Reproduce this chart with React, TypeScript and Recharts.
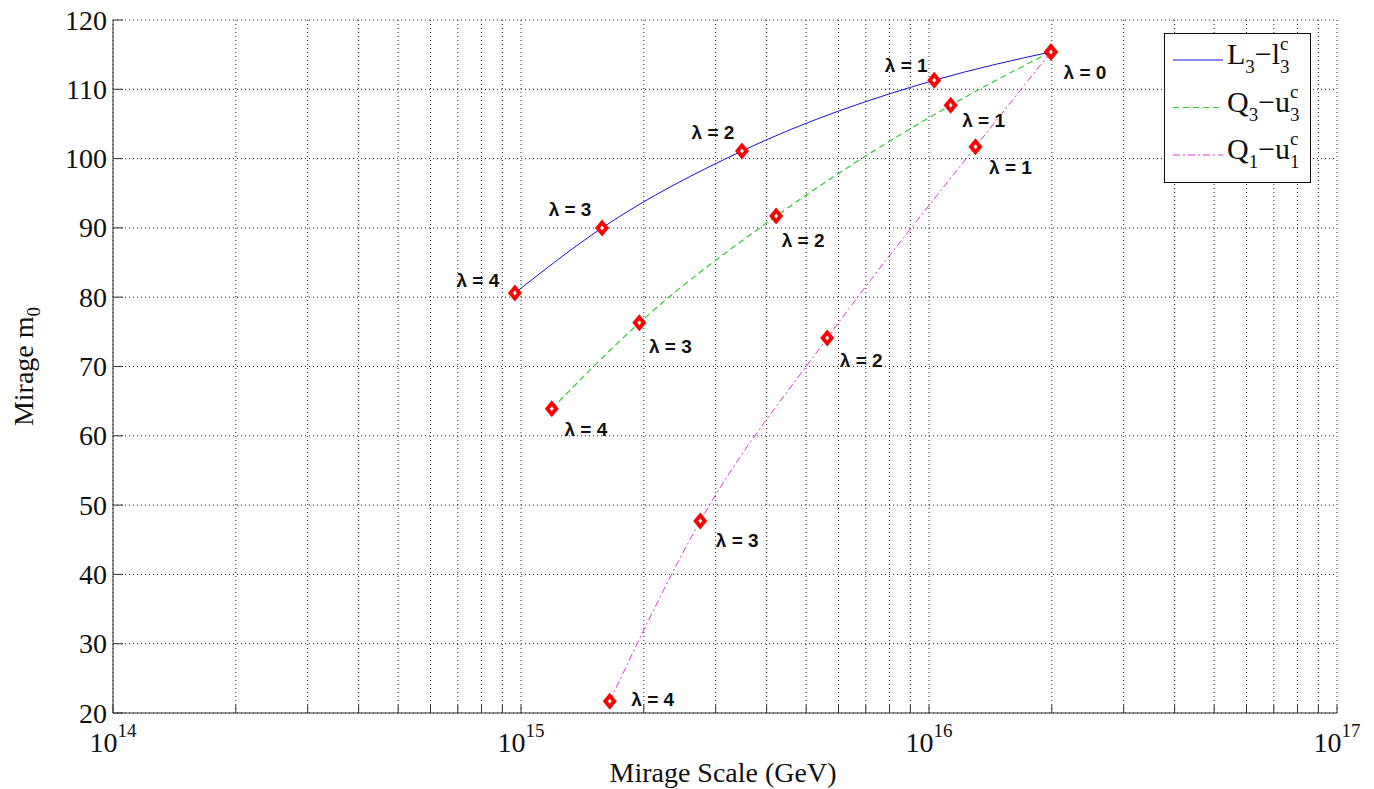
import React from "react";
import {
  LineChart,
  Line,
  XAxis,
  YAxis,
  CartesianGrid,
  Legend,
  LabelList,
} from "recharts";

const lambdaLabels = ["λ = 4", "λ = 3", "λ = 2", "λ = 1", "λ = 0"];

// L3 - l3^c
const lScale = [9.66e14, 1.58e15, 3.48e15, 1.03e16, 1.99e16];
const lM0 = [80.6, 90.0, 101.1, 111.3, 115.4];
// Q3 - u3^c
const q3Scale = [1.19e15, 1.95e15, 4.22e15, 1.13e16, 1.99e16];
const q3M0 = [63.9, 76.3, 91.7, 107.7, 115.4];
// Q1 - u1^c
const q1Scale = [1.65e15, 2.75e15, 5.63e15, 1.3e16, 1.99e16];
const q1M0 = [21.7, 47.7, 74.1, 101.7, 115.4];

const xTicks = [
  1e14, 2e14, 3e14, 4e14, 5e14, 6e14, 7e14, 8e14, 9e14,
  1e15, 2e15, 3e15, 4e15, 5e15, 6e15, 7e15, 8e15, 9e15,
  1e16, 2e16, 3e16, 4e16, 5e16, 6e16, 7e16, 8e16, 9e16,
  1e17,
];
const decadeLabels: Record<string, string> = {
  "100000000000000": "14",
  "1000000000000000": "15",
  "10000000000000000": "16",
  "100000000000000000": "17",
};
const yTicks = [20, 30, 40, 50, 60, 70, 80, 90, 100, 110, 120];

// label offsets from marker centre (layout only)
const lLabelOff = [[-37, -13], [-32, -18], [-29, -18], [-28, -15], [34, 21]];
const q3LabelOff = [[34, 21], [31, 24], [27, 24], [33, 15], null];
const q1LabelOff = [[43, -2], [37, 19], [34, 22], [35, 21], null];

const toRows = (xs: number[], ys: number[]) =>
  xs.map((x, i) => ({ x, y: ys[i], lbl: lambdaLabels[i] }));

const lRows = toRows(lScale, lM0);
const q3Rows = toRows(q3Scale, q3M0);
const q1Rows = toRows(q1Scale, q1M0);

const SERIF = "'Liberation Serif', 'Times New Roman', serif";
const SANS = "'Liberation Sans', Arial, sans-serif";
const FRAME = "#333";

const BLUE = "#1010e0";
const GREEN = "#2ccc2c";
const MAGENTA = "#dd33dd";

const Diamond = (props: any) => {
  const { cx, cy } = props;
  if (cx == null || cy == null) return null;
  return (
    <g>
      <path
        d={`M${cx},${cy - 8.5}L${cx + 7},${cy}L${cx},${cy + 8.5}L${cx - 7},${cy}Z`}
        fill="#f00"
      />
      <path
        d={`M${cx},${cy - 2.5}L${cx + 2},${cy}L${cx},${cy + 2.5}L${cx - 2},${cy}Z`}
        fill="#fff"
      />
    </g>
  );
};

const makeLabel = (offsets: (number[] | null)[]) => (props: any) => {
  const { x, y, value, index } = props;
  const off = offsets[index];
  if (!off) return null;
  return (
    <text
      x={x + off[0]}
      y={y + off[1]}
      textAnchor="middle"
      dominantBaseline="central"
      fontFamily={SANS}
      fontSize={19}
      fontWeight="bold"
      fill="#111"
    >
      {value}
    </text>
  );
};

const BottomTick = (props: any) => {
  const { x, y, payload } = props;
  const exp = decadeLabels[String(payload.value)];
  return (
    <g>
      <line x1={x} x2={x} y1={y} y2={y - 8} stroke={FRAME} />
      {exp && (
        <text x={x} y={y + 39} textAnchor="middle" fontFamily={SERIF} fontSize={28} fill="#111">
          10
          <tspan dy={-15} fontSize={19}>
            {exp}
          </tspan>
        </text>
      )}
    </g>
  );
};

const TopTick = (props: any) => {
  const { x, y } = props;
  return <line x1={x} x2={x} y1={y} y2={y + 8} stroke={FRAME} />;
};

const LeftTick = (props: any) => {
  const { x, y, payload } = props;
  return (
    <g>
      <line x1={x} x2={x + 10} y1={y} y2={y} stroke={FRAME} />
      <text
        x={x - 6}
        y={y}
        textAnchor="end"
        dominantBaseline="central"
        fontFamily={SERIF}
        fontSize={28}
        fill="#111"
      >
        {payload.value}
      </text>
    </g>
  );
};

const RightTick = (props: any) => {
  const { x, y } = props;
  return <line x1={x} x2={x - 10} y1={y} y2={y} stroke={FRAME} />;
};

const XTitle = (props: any) => {
  const { viewBox } = props;
  return (
    <text
      x={viewBox.x + viewBox.width / 2 - 2}
      y={viewBox.y + 69}
      textAnchor="middle"
      fontFamily={SERIF}
      fontSize={28}
      fill="#111"
    >
      Mirage Scale (GeV)
    </text>
  );
};

const YTitle = (props: any) => {
  const { viewBox } = props;
  const cx = viewBox.x + 33;
  const cy = viewBox.y + viewBox.height / 2;
  return (
    <text
      transform={`translate(${cx},${cy}) rotate(-90)`}
      textAnchor="middle"
      fontFamily={SERIF}
      fontSize={28}
      fill="#111"
    >
      Mirage m
      <tspan dy={7} fontSize={19}>
        0
      </tspan>
    </text>
  );
};

const legendRows = [
  { color: BLUE, dash: undefined, big: "L", sub: "3", small: "l", sup: "c", sub2: "3" },
  { color: GREEN, dash: "6 4", big: "Q", sub: "3", small: "u", sup: "c", sub2: "3" },
  { color: MAGENTA, dash: "7 3 2 3", big: "Q", sub: "1", small: "u", sup: "c", sub2: "1" },
];

const renderLegend = () => (
  <svg width={148} height={151} style={{ overflow: "visible" }}>
    <rect x={0.5} y={0.5} width={146} height={149} fill="#fff" stroke="#111" />
    {legendRows.map((r, i) => {
      const ly = 27 + i * 47.5;
      return (
        <g key={i}>
          <line x1={9} x2={59} y1={ly} y2={ly} stroke={r.color} strokeDasharray={r.dash} />
          <text x={63} y={ly + 4} fontFamily={SERIF} fontSize={30} fill="#111">
            {r.big}
            <tspan dy={9} fontSize={19}>
              {r.sub}
            </tspan>
            <tspan dy={-9}>−</tspan>
            <tspan>{r.small}</tspan>
            <tspan dy={-14} fontSize={19}>
              {r.sup}
            </tspan>
            <tspan dx={-8.5} dy={23} fontSize={19}>
              {r.sub2}
            </tspan>
          </text>
        </g>
      );
    })}
  </svg>
);

export default function App() {
  return (
    <div style={{ position: "absolute", left: 0, top: 0, background: "#fff" }}>
      <LineChart
        width={1374}
        height={789}
        margin={{ top: 20, right: 37, bottom: 0, left: 0 }}
      >
        <CartesianGrid stroke="#222" strokeDasharray="1 3" />
        <XAxis
          dataKey="x"
          type="number"
          scale="log"
          domain={[1e14, 1e17]}
          allowDataOverflow
          ticks={xTicks}
          interval={0}
          height={76}
          tickSize={0}
          tickMargin={0}
          tickLine={false}
          axisLine={{ stroke: FRAME }}
          tick={<BottomTick />}
          label={<XTitle />}
        />
        <XAxis
          xAxisId="top"
          orientation="top"
          dataKey="x"
          type="number"
          scale="log"
          domain={[1e14, 1e17]}
          allowDataOverflow
          ticks={xTicks}
          interval={0}
          height={0}
          tickSize={0}
          tickMargin={0}
          tickLine={false}
          axisLine={{ stroke: FRAME }}
          tick={<TopTick />}
        />
        <YAxis
          type="number"
          domain={[20, 120]}
          allowDataOverflow
          ticks={yTicks}
          interval={0}
          width={113}
          tickSize={0}
          tickMargin={0}
          tickLine={false}
          axisLine={{ stroke: FRAME }}
          tick={<LeftTick />}
          label={<YTitle />}
        />
        <YAxis
          yAxisId="right"
          orientation="right"
          type="number"
          domain={[20, 120]}
          allowDataOverflow
          ticks={yTicks}
          interval={0}
          width={0}
          tickSize={0}
          tickMargin={0}
          tickLine={false}
          axisLine={{ stroke: FRAME }}
          tick={<RightTick />}
        />
        <Legend
          layout="vertical"
          align="center"
          verticalAlign="middle"
          content={renderLegend}
          wrapperStyle={{ left: 1164, top: 33, width: 148, height: 151 }}
        />
        <Line
          data={lRows}
          dataKey="y"
          name="L3-l3c"
          type="monotone"
          stroke={BLUE}
          strokeWidth={1}
          dot={<Diamond />}
          activeDot={false}
          isAnimationActive={false}
        >
          <LabelList dataKey="lbl" content={makeLabel(lLabelOff)} />
        </Line>
        <Line
          data={q3Rows}
          dataKey="y"
          name="Q3-u3c"
          type="monotone"
          stroke={GREEN}
          strokeWidth={1.2}
          strokeDasharray="6 4"
          dot={<Diamond />}
          activeDot={false}
          isAnimationActive={false}
        >
          <LabelList dataKey="lbl" content={makeLabel(q3LabelOff)} />
        </Line>
        <Line
          data={q1Rows}
          dataKey="y"
          name="Q1-u1c"
          type="monotone"
          stroke={MAGENTA}
          strokeWidth={1}
          strokeDasharray="7 3 2 3"
          dot={<Diamond />}
          activeDot={false}
          isAnimationActive={false}
        >
          <LabelList dataKey="lbl" content={makeLabel(q1LabelOff)} />
        </Line>
      </LineChart>
    </div>
  );
}
